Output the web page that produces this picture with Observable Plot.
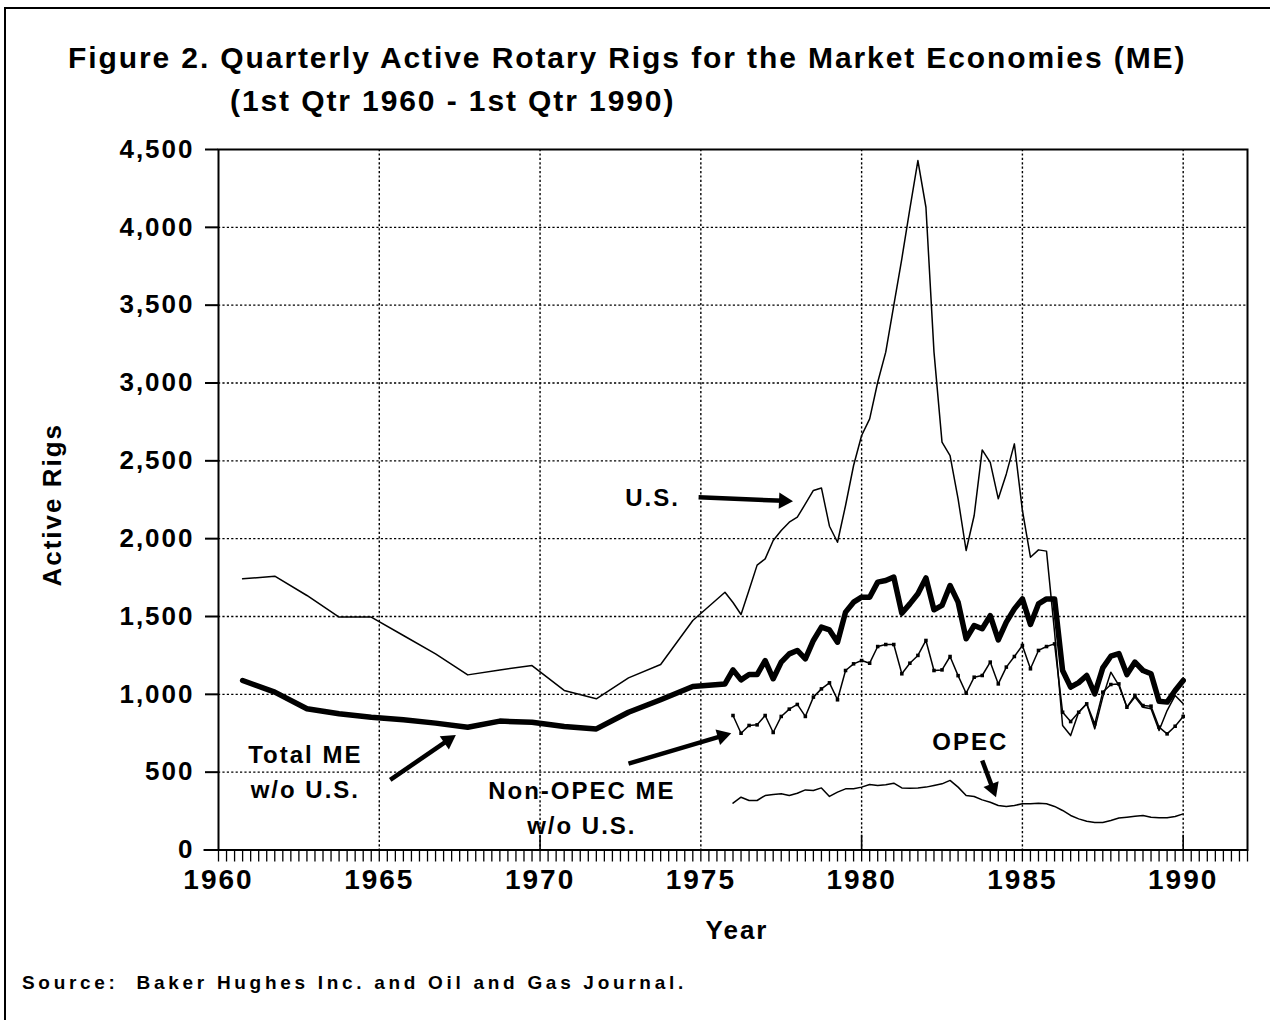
<!DOCTYPE html>
<html><head><meta charset="utf-8">
<script src="https://cdn.jsdelivr.net/npm/d3@7"></script>
<script src="https://cdn.jsdelivr.net/npm/@observablehq/plot@0.6"></script>
<style>
body{margin:0;background:#fff;font-family:"Liberation Sans",Arial,sans-serif;color:#000}
#page{position:relative;width:1270px;height:1020px;overflow:hidden;background:#fff}
#frame{position:absolute;left:4px;top:7px;width:1270px;height:1020px;border-left:2px solid #000;border-top:2px solid #000;box-sizing:border-box;z-index:5;pointer-events:none}
.title{position:absolute;font-weight:bold;font-size:30px;letter-spacing:1.9px;white-space:nowrap;line-height:34px}
#t1{left:68px;top:41px}
#t2{left:230px;top:84px}
#chart{position:absolute;left:0;top:130px}
#chart svg text{letter-spacing:2px}
#src{position:absolute;left:22px;top:972px;font-size:19px;font-weight:bold;letter-spacing:3.7px;white-space:pre;line-height:22px}
</style></head>
<body>
<div id="page">
  <div class="title" id="t1">Figure 2. Quarterly Active Rotary Rigs for the Market Economies (ME)</div>
  <div class="title" id="t2">(1st Qtr 1960 - 1st Qtr 1990)</div>
  <div id="chart"></div>
  <div id="src">Source:  Baker Hughes Inc. and Oil and Gas Journal.</div>
  <div id="frame"></div>
</div>
<script>
// ---- data (rigs) ----
// Annual points 1960-1975 (plotted at 4th quarter of each year)
const annualYears = [1960.75,1961.75,1962.75,1963.75,1964.75,1965.75,1966.75,1967.75,1968.75,1969.75,1970.75,1971.75,1972.75,1973.75,1974.75,1975.75];
const usAnnual    = [1742,1759,1635,1496,1496,1378,1260,1125,1157,1185,1025,971,1106,1192,1474,1656];
const totalAnnual = [1089,1014,907,875,853,836,815,789,828,821,793,778,885,965,1050,1067];

// Quarterly points 1st Qtr 1976 - 1st Qtr 1990
const quarters = d3.range(1976, 1990.001, 0.25);
const usQuarterly = [1590,1513,1670,1830,1870,1988,2052,2106,2138,2223,2310,2326,2080,1977,2213,2470,2663,2770,3005,3198,3498,3798,4119,4429,4129,3200,2620,2534,2256,1924,2149,2570,2490,2256,2416,2609,2181,1881,1928,1920,1400,800,735,885,939,778,982,1142,1057,917,982,917,907,768,896,993,939];
const totalQuarterly = [1157,1093,1127,1127,1217,1100,1207,1260,1282,1228,1346,1432,1414,1335,1528,1592,1624,1624,1721,1731,1753,1521,1581,1646,1748,1543,1571,1699,1592,1357,1442,1421,1506,1350,1464,1549,1613,1449,1581,1613,1613,1153,1046,1075,1121,1003,1170,1245,1262,1127,1207,1153,1132,955,950,1025,1089];
const nonOpecQuarterly = [864,750,800,804,864,755,858,905,935,858,982,1035,1074,965,1153,1196,1217,1200,1307,1320,1320,1132,1200,1250,1346,1153,1157,1243,1120,1007,1110,1121,1207,1067,1175,1243,1314,1164,1282,1307,1324,885,825,885,939,810,1014,1063,1067,917,993,928,924,789,746,795,858];
const opecQuarterly = [301,339,318,318,350,357,361,350,365,386,382,399,344,372,393,393,404,421,415,419,429,399,397,399,404,415,425,447,404,350,344,322,307,286,280,286,297,297,301,297,280,254,222,200,185,177,177,190,205,211,217,222,211,207,207,215,232];

// axis ticks
const yTicks = [0,500,1000,1500,2000,2500,3000,3500,4000,4500];
const yGrid = [500,1000,1500,2000,2500,3000,3500,4000];
const xLabels = [1960,1965,1970,1975,1980,1985,1990];
const xGrid = [1965,1970,1975,1980,1985,1990];
const xMajorUp = [1970,1980,1990];
const quarterTicks = d3.range(1960, 1992.001, 0.25);

// annotations (data coordinates)
const labelTexts = ["U.S.","Total ME","w/o U.S.","Non-OPEC ME","w/o U.S.","OPEC"];
const labelX =     [1973.5,1962.7,1962.7,1971.3,1971.3,1983.38];
const labelY =     [2262,607,382,376,151,691];
const arrowX1 = [1974.93,1965.34,1972.75,1983.75];
const arrowY1 = [2266,451,555,575];
const arrowX2 = [1977.84,1967.36,1975.92,1984.17];
const arrowY2 = [2241,736,748,344];

// ---- build tables ----
const pts = (xs, ys) => xs.map((x,i)=>({x, y: ys[i]}));
const us = pts(annualYears, usAnnual).concat(pts(quarters, usQuarterly));
const total = pts(annualYears, totalAnnual).concat(pts(quarters, totalQuarterly));
const nonOpec = pts(quarters, nonOpecQuarterly);
const opec = pts(quarters, opecQuarterly);
const labels = labelTexts.map((t,i)=>({t, x: labelX[i], y: labelY[i]}));
const arrows = arrowX1.map((x1,i)=>({x1, y1: arrowY1[i], x2: arrowX2[i], y2: arrowY2[i]}));

const dotted = {strokeDasharray: "2.2,2.2", strokeOpacity: 1, strokeWidth: 1.4, stroke: "#000"};

function build(extra) {
  return Plot.plot({
    width: 1270,
    height: 830,
    marginLeft: 218,
    marginRight: 23,
    marginTop: 19,
    marginBottom: 110.5,
    style: {fontFamily: "'Liberation Sans', Arial, sans-serif", background: "#fff", color: "#000"},
    x: {domain: [1960, 1992]},
    y: {domain: [0, 4500]},
    marks: [
      Plot.gridY(yGrid, dotted),
      Plot.gridX(xGrid, dotted),
      Plot.axisY(yTicks, {tickSize: 13, tickPadding: 11, tickFormat: d3.format(","), fontSize: 26, fontWeight: "bold", label: null, strokeWidth: 2}),
      Plot.axisX(quarterTicks, {tickSize: 12, tickFormat: () => "", label: null, strokeWidth: 1.3}),
      Plot.axisX(xLabels, {tickSize: 0, tickPadding: 19, tickFormat: d3.format("d"), fontSize: 28, fontWeight: "bold", label: null}),
      Plot.ruleX(xMajorUp, {y1: 0, y2: 95, strokeWidth: 1.6}),
      Plot.ruleY([0], {x1: 1959.55, x2: 1992, strokeWidth: 2}),
      Plot.frame({strokeWidth: 2}),
      Plot.line(opec, {x: "x", y: "y", strokeWidth: 1.5}),
      Plot.line(us, {x: "x", y: "y", strokeWidth: 1.5}),
      Plot.line(nonOpec, {x: "x", y: "y", strokeWidth: 1.5}),
      Plot.dot(nonOpec, {x: "x", y: "y", symbol: "square", r: 2, fill: "#000", stroke: "none"}),
      Plot.line(total, {x: "x", y: "y", strokeWidth: 5.5, strokeLinejoin: "round"}),
      Plot.text(labels, {x: "x", y: "y", text: "t", fontSize: 24, fontWeight: "bold", lineAnchor: "middle"}),
      Plot.text(["Active Rigs"], {frameAnchor: "left", textAnchor: "middle", rotate: -90, dx: -166, dy: 5, fontSize: 26, fontWeight: "bold", lineAnchor: "middle"}),
      Plot.text(["Year"], {frameAnchor: "bottom", textAnchor: "middle", dx: 4, dy: 81, fontSize: 26, fontWeight: "bold", lineAnchor: "middle"}),
      ...extra
    ]
  });
}

// first pass to get scales, then arrows with solid heads oriented in screen space
const probe = build([]);
const sx = probe.scale("x"), sy = probe.scale("y");
const headBack = 8.5; // px from tip to triangle centroid
const heads = arrows.map(a => {
  const px1 = sx.apply(a.x1), py1 = sy.apply(a.y1), px2 = sx.apply(a.x2), py2 = sy.apply(a.y2);
  const L = Math.hypot(px2 - px1, py2 - py1);
  const ux = (px2 - px1) / L, uy = (py2 - py1) / L;
  const cx = px2 - ux * headBack, cy = py2 - uy * headBack;
  return {x1: a.x1, y1: a.y1, cx: sx.invert(cx), cy: sy.invert(cy), rot: Math.atan2(uy, ux) * 180 / Math.PI + 90};
});

const plot = build([
  Plot.link(heads, {x1: "x1", y1: "y1", x2: "cx", y2: "cy", strokeWidth: 4.5}),
  Plot.dot(heads, {x: "cx", y: "cy", rotate: "rot", symbol: "triangle", r: 6, fill: "#000", stroke: "none"})
]);
document.getElementById("chart").appendChild(plot);
</script>
</body></html>
